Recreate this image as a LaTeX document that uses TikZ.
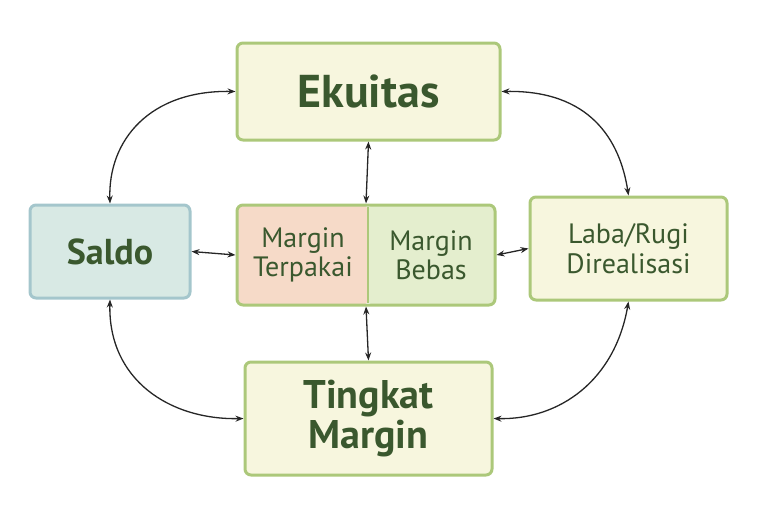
\documentclass[tikz,border=0pt]{standalone}
\usepackage{fontspec}
\setmainfont{PT Sans}
\usetikzlibrary{arrows.meta}
\definecolor{boxline}{RGB}{172,200,122}
\definecolor{boxfill}{RGB}{247,246,222}
\definecolor{saldoline}{RGB}{164,198,204}
\definecolor{saldofill}{RGB}{216,233,228}
\definecolor{usedfill}{RGB}{246,218,200}
\definecolor{freefill}{RGB}{228,238,206}
\definecolor{txt}{RGB}{58,88,46}
\tikzset{
  box/.style={draw=boxline,fill=boxfill,line width=3pt,rounded corners=6pt,text=txt,align=center,inner sep=0pt},
  link/.style={{Stealth[length=8pt]}-{Stealth[length=8pt]},line width=1.3pt,black!85}
}
\begin{document}
\begin{tikzpicture}[x=1pt,y=-1pt]
  \useasboundingbox (0,0) rectangle (768,512);
  % boxes
  \node[box,minimum width=263pt,minimum height=97pt,font=\fontsize{46}{50}\selectfont\bfseries] (ekuitas) at (368.5,91.5) {Ekuitas};
  \node[box,draw=saldoline,fill=saldofill,minimum width=160pt,minimum height=93pt,font=\fontsize{36}{40}\selectfont\bfseries] (saldo) at (110,251.5) {Saldo};
  \node[box,minimum width=197pt,minimum height=103pt,font=\fontsize{28}{30}\selectfont] (laba) at (628.5,248.5) {Laba/Rugi\\Direalisasi};
  \node[box,minimum width=247pt,minimum height=113pt,font=\fontsize{40}{40}\selectfont\bfseries] (tingkat) at (368.5,418.5) {Tingkat\\Margin};
  % middle split box
  \fill[usedfill,rounded corners=6pt] (237,205) rectangle (368,305);
  \fill[freefill,rounded corners=6pt] (368,205) rectangle (495,305);
  \draw[boxline,line width=1.5pt] (368,207) -- (368,303);
  \node[box,fill=none,minimum width=258pt,minimum height=100pt] (margin) at (366,255) {};
  \node[text=txt,align=center,font=\fontsize{28}{29}\selectfont] (terpakai) at (303,255) {Margin\\Terpakai};
  \node[text=txt,align=center,font=\fontsize{28}{29}\selectfont] (bebas) at (431,255) {Margin\\Bebas};
  % connectors
  \draw[link] (ekuitas.south) -- (margin.north);
  \draw[link] (margin.south) -- (tingkat.north);
  \draw[link] (saldo.east) -- (margin.west);
  \draw[link] (margin.east) -- (laba.west);
  \draw[link] (ekuitas.west) .. controls (150,90) and (108,140) .. (saldo.north);
  \draw[link] (ekuitas.east) .. controls (590,90) and (620,140) .. (laba.north);
  \draw[link] (saldo.south) .. controls (108,380) and (170,420) .. (tingkat.west);
  \draw[link] (laba.south) .. controls (615,380) and (560,420) .. (tingkat.east);
\end{tikzpicture}
\end{document}
